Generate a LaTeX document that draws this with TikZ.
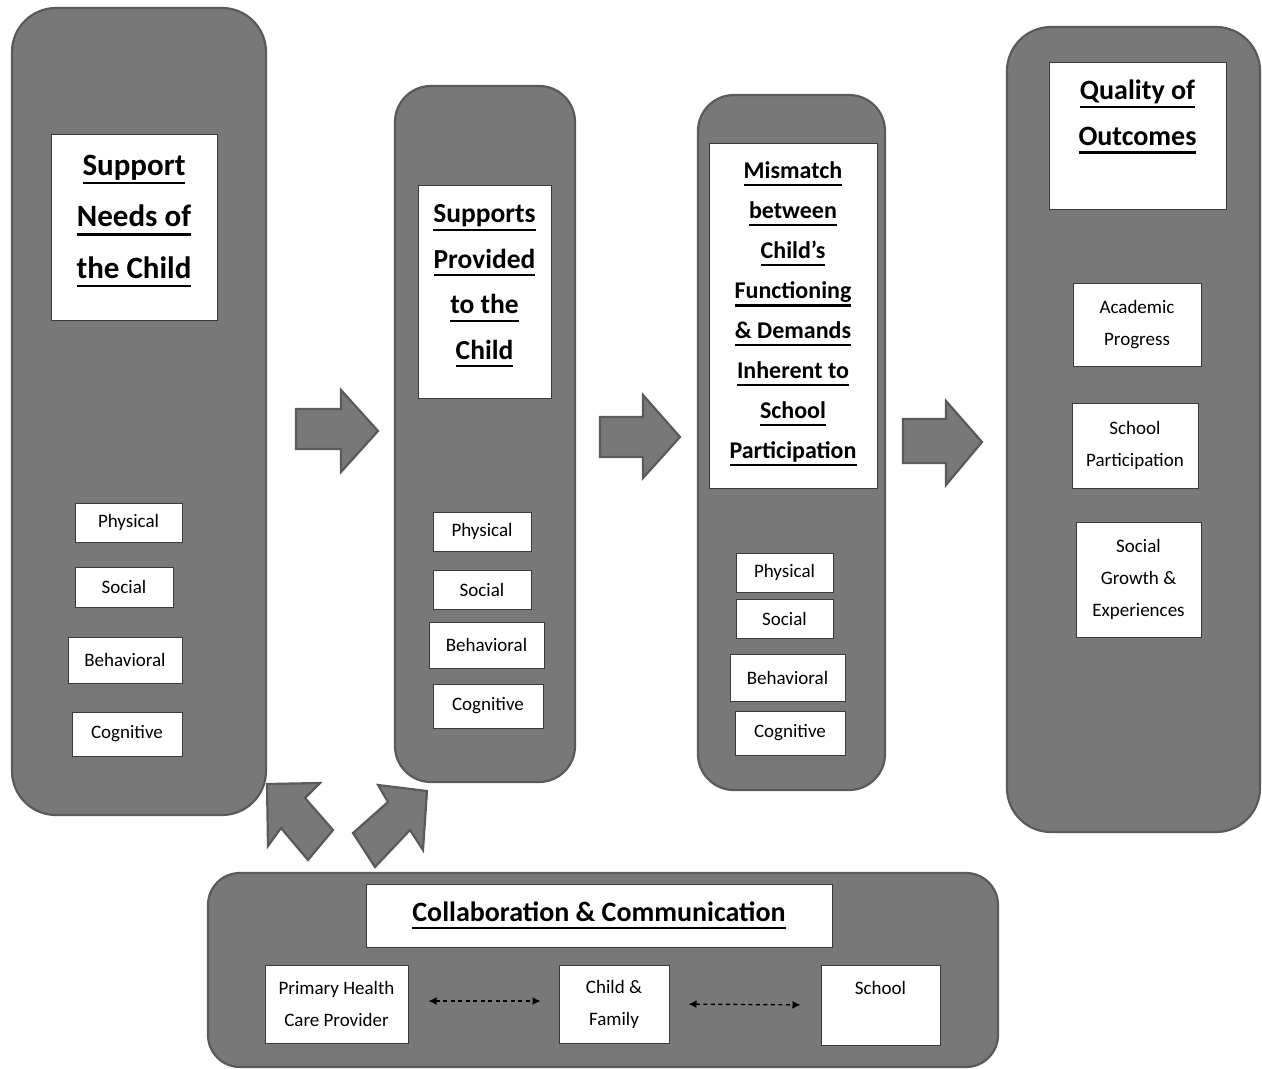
\documentclass[tikz,border=0pt]{standalone}
\usepackage{fontspec}
\setmainfont{Carlito}
\usetikzlibrary{arrows.meta}
\definecolor{panelgray}{HTML}{787878}
\definecolor{paneledge}{HTML}{5A5A5A}
\definecolor{boxedge}{HTML}{3A3A3A}
\newcommand\hdl[1]{\leavevmode\vtop{\hbox{#1\vphantom{p}}\kern1.6pt\hrule height 2.2pt}}
\tikzset{
  panel/.style={draw=paneledge, fill=panelgray, line width=2.2pt, rounded corners=#1, inner sep=0pt},
  panel/.default=40pt,
  wbox/.style={draw=boxedge, fill=white, line width=1pt, inner sep=0pt, align=center,
    font=\fontsize{19}{32}\selectfont},
  blockarrow/.style={draw=paneledge, fill=panelgray, line width=2.2pt, line join=miter},
  dasharrow/.style={draw=black, line width=1.4pt, dash pattern=on 4pt off 3.5pt,
    {Latex[length=8pt,width=8pt]}-{Latex[length=8pt,width=8pt]}}
}
\begin{document}
\begin{tikzpicture}[x=1pt,y=-1pt]
\useasboundingbox (0,0) rectangle (1262,1069);

% ---------- column 1 ----------
\node[panel=44pt, minimum width=254pt, minimum height=807pt] (c1) at (139,411.5) {};
\node[wbox, minimum width=166pt, minimum height=186pt] (t1) at (134,227) {};
\node[font=\bfseries\fontsize{31}{51.5}\selectfont, align=center, inner sep=0pt] (t1txt) at (134,221)
  {\hdl{Support}\\\hdl{Needs of}\\\hdl{the Child}};
\node[wbox, minimum width=107pt, minimum height=39pt] (c1a) at (128.5,522.5) {Physical};
\node[wbox, minimum width=98pt, minimum height=40pt] (c1b) at (124,587) {Social};
\node[wbox, minimum width=114pt, minimum height=46pt] (c1c) at (125,660) {Behavioral};
\node[wbox, minimum width=110pt, minimum height=44pt] (c1d) at (127,734) {Cognitive};

% ---------- column 2 ----------
\node[panel=36pt, minimum width=180pt, minimum height=696pt] (c2) at (485,434) {};
\node[wbox, minimum width=133pt, minimum height=213pt] (t2) at (484.5,291.5) {};
\node[font=\bfseries\fontsize{27.5}{45.5}\selectfont, align=center, inner sep=0pt] (t2txt) at (484.5,286)
  {\hdl{Supports}\\\hdl{Provided}\\\hdl{to the}\\\hdl{Child}};
\node[wbox, minimum width=98pt, minimum height=39pt] (c2a) at (482,531.5) {Physical};
\node[wbox, minimum width=98pt, minimum height=39pt] (c2b) at (482,589.5) {Social};
\node[wbox, minimum width=115pt, minimum height=46pt] (c2c) at (486.5,645) {Behavioral};
\node[wbox, minimum width=110pt, minimum height=44pt] (c2d) at (488,706) {Cognitive};

% ---------- column 3 ----------
\node[panel=36pt, minimum width=187pt, minimum height=695pt] (c3) at (791.5,442.5) {};
\node[wbox, minimum width=168pt, minimum height=345pt] (t3) at (793,315.5) {};
\node[font=\bfseries\fontsize{24}{40}\selectfont, align=center, inner sep=0pt] (t3txt) at (793,314)
  {\hdl{Mismatch}\\\hdl{between}\\\hdl{Child’s}\\\hdl{Functioning}\\\hdl{\& Demands}\\\hdl{Inherent to}\\\hdl{School}\\\hdl{Participation}};
\node[wbox, minimum width=97pt, minimum height=39pt] (c3a) at (784.5,572.5) {Physical};
\node[wbox, minimum width=97pt, minimum height=39pt] (c3b) at (784.5,618.5) {Social};
\node[wbox, minimum width=115pt, minimum height=47pt] (c3c) at (787.5,677.5) {Behavioral};
\node[wbox, minimum width=110pt, minimum height=44pt] (c3d) at (790,733) {Cognitive};

% ---------- column 4 ----------
\node[panel=44pt, minimum width=253pt, minimum height=805pt] (c4) at (1133.5,429.5) {};
\node[wbox, minimum width=177pt, minimum height=147pt] (t4) at (1137.5,135.5) {};
\node[font=\bfseries\fontsize{28}{45.5}\selectfont, align=center, inner sep=0pt] (t4txt) at (1137.5,117)
  {\hdl{Quality of}\\\hdl{Outcomes}};
\node[wbox, minimum width=128pt, minimum height=83pt] (c4a) at (1137,324.5) {Academic\\Progress};
\node[wbox, minimum width=126pt, minimum height=85pt] (c4b) at (1135,445.5) {School\\Participation};
\node[wbox, minimum width=125pt, minimum height=115pt] (c4c) at (1138.5,579.5) {Social\\Growth \&\\Experiences};

% ---------- bottom panel ----------
\node[panel=32pt, minimum width=790pt, minimum height=194pt] (cb) at (603,970) {};
\node[wbox, minimum width=466pt, minimum height=63pt, font=\bfseries\fontsize{28}{34}\selectfont] (tb) at (599,915.5)
  {\hdl{Collaboration \& Communication}};
\node[wbox, minimum width=143pt, minimum height=78pt] (phcp) at (336.5,1004) {Primary Health\\Care Provider};
\node[wbox, minimum width=110pt, minimum height=78pt] (cf) at (614,1004) {Child \&\\Family};
\node[wbox, minimum width=119pt, minimum height=80pt] (sch) at (880.5,1005) {};
\node[font=\fontsize{19}{32}\selectfont, inner sep=0pt] (schtxt) at (880.5,988) {School};

\draw[dasharrow, shorten <=20pt, shorten >=18pt] ([yshift=3pt]phcp.east) -- ([yshift=3pt]cf.west);
\draw[dasharrow, shorten <=19pt, shorten >=20pt] (cf.east) -- (sch.west);

% ---------- block arrows ----------
\draw[blockarrow] (296,409) -- (341,409) -- (341,390) -- (378,431) -- (341,472) -- (341,449) -- (296,449) -- cycle;
\draw[blockarrow] (600,417) -- (643,417) -- (643,395) -- (680,437) -- (643,478) -- (643,457) -- (600,457) -- cycle;
\draw[blockarrow] (903,419) -- (946,419) -- (946,401) -- (982,442) -- (946,485) -- (946,463) -- (903,463) -- cycle;
\draw[blockarrow] (267,784) -- (320,783) -- (305,798) -- (333,830) -- (308,860) -- (281,828) -- (268,846) -- cycle;
\draw[blockarrow] (378,785) -- (427,791) -- (423,850) -- (410,830) -- (375,867) -- (353,833) -- (388,802) -- cycle;
\end{tikzpicture}
\end{document}
